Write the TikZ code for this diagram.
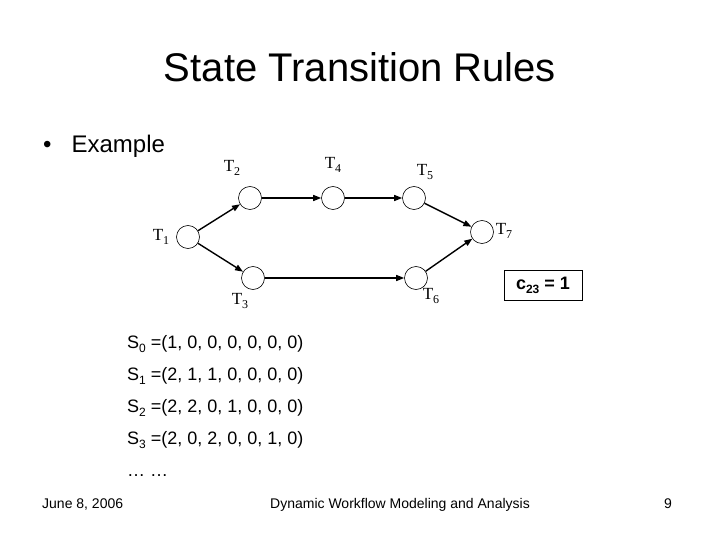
\documentclass[tikz,border=0pt]{standalone}
\usepackage{fontspec}
\setmainfont{Liberation Sans}
\newfontfamily\serif{Liberation Serif}
\usetikzlibrary{arrows.meta}
\newcommand\lowsub[1]{\raisebox{-4pt}{\fontsize{12}{12}\selectfont #1}}
\tikzset{
  place/.style={draw, circle, minimum size=23pt, inner sep=0pt, line width=0.6pt},
  tlabel/.style={font=\serif\fontsize{17}{17}\selectfont, inner sep=0pt},
  flow/.style={line width=1.4pt, -{Triangle[length=8pt,width=6pt]}},
  rowtext/.style={anchor=base west, font=\fontsize{18}{18}\selectfont, inner sep=0pt},
  foot/.style={anchor=base, font=\fontsize{14}{14}\selectfont, inner sep=0pt}
}
\begin{document}
\begin{tikzpicture}[x=1pt,y=-1pt]
\useasboundingbox (0,0) rectangle (720,540);
\node[font=\fontsize{40}{40}\selectfont, anchor=base] (title) at (360,82) {State Transition Rules};
\node[font=\fontsize{24}{24}\selectfont, anchor=base west, inner sep=0pt] (ex) at (43,153) {\textbullet\hspace{20pt}Example};

\node[place] (t1) at (188,237) {};
\node[place] (t2) at (250,198) {};
\node[place] (t4) at (333,198) {};
\node[place] (t5) at (414,198) {};
\node[place] (t7) at (482,232) {};
\node[place] (t3) at (253,278) {};
\node[place] (t6) at (416,278) {};

\node[tlabel] (l1) at (161,237) {T\lowsub{1}};
\node[tlabel] (l2) at (232,168) {T\lowsub{2}};
\node[tlabel] (l4) at (333,165) {T\lowsub{4}};
\node[tlabel] (l5) at (425,172) {T\lowsub{5}};
\node[tlabel] (l7) at (504,231) {T\lowsub{7}};
\node[tlabel] (l3) at (240,301) {T\lowsub{3}};
\node[tlabel] (l6) at (431,296) {T\lowsub{6}};

\draw[flow] (t1) -- (t2);
\draw[flow] (t2) -- (t4);
\draw[flow] (t4) -- (t5);
\draw[flow] (t5) -- (t7);
\draw[flow] (t1) -- (t3);
\draw[flow] (t3) -- (t6);
\draw[flow] (t6) -- (t7);

\node[draw, line width=0.6pt, font=\bfseries\fontsize{18}{18}\selectfont, minimum width=78pt, minimum height=30pt, inner sep=0pt] (c) at (543,285) {c\lowsub{23} = 1};

\node[rowtext] (s0) at (127,348) {S\lowsub{0} =(1, 0, 0, 0, 0, 0, 0)};
\node[rowtext] (s1) at (127,380) {S\lowsub{1} =(2, 1, 1, 0, 0, 0, 0)};
\node[rowtext] (s2) at (127,412) {S\lowsub{2} =(2, 2, 0, 1, 0, 0, 0)};
\node[rowtext] (s3) at (127,444) {S\lowsub{3} =(2, 0, 2, 0, 0, 1, 0)};
\node[rowtext] (dots) at (127,476) {\dots\ \dots};

\node[foot, anchor=base west] (date) at (42,508) {June 8, 2006};
\node[foot] (ft) at (400,508) {Dynamic Workflow Modeling and Analysis};
\node[foot] (pg) at (668,508) {9};
\end{tikzpicture}
\end{document}
